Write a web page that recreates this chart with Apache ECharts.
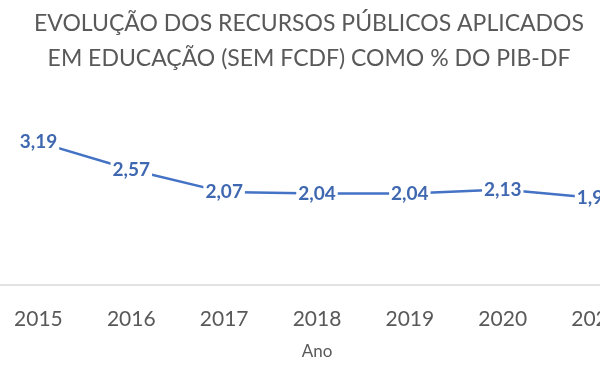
<!DOCTYPE html>
<html>
<head>
<meta charset="utf-8">
<script src="https://cdn.jsdelivr.net/npm/echarts@6/dist/echarts.min.js"></script>
<style>
  html, body { margin: 0; padding: 0; background: #fff; }
  #chart { width: 600px; height: 378px; }
</style>
</head>
<body>
<div id="chart"></div>
<script>
// ------------------------------
// DATA
// ------------------------------
const titleLines = [
  "EVOLUÇÃO DOS RECURSOS PÚBLICOS APLICADOS",
  "EM EDUCAÇÃO (SEM FCDF) COMO % DO PIB-DF"
];
const years = ["2015", "2016", "2017", "2018", "2019", "2020", "2021"];
const shareOfGdp = [3.19, 2.57, 2.07, 2.04, 2.04, 2.13, 1.94];
const xAxisName = "Ano";

// ------------------------------
// CHART
// ------------------------------
const grey = "#595959";
const blue = "#4472C4";
const fontFamily = "Lato, 'Open Sans', sans-serif";

let chart = echarts.init(document.getElementById("chart"), null, { renderer: "canvas" });

chart.setOption({
  animation: false,
  backgroundColor: "#fff",
  title: {
    text: titleLines.join("\n"),
    left: 309,
    textAlign: "center",
    top: 6,
    padding: 0,
    textStyle: {
      color: grey,
      fontFamily: fontFamily,
      fontWeight: "normal",
      fontSize: 23,
      lineHeight: 35
    }
  },
  // plot runs past the right edge, the last year is cut like in the source image
  grid: { left: -8, right: -42, top: 106, bottom: 90, outerBoundsMode: "none", containLabel: false },
  xAxis: {
    type: "category",
    data: years,
    boundaryGap: true,
    name: xAxisName,
    nameLocation: "middle",
    nameGap: 55,
    nameTextStyle: { color: grey, fontFamily: fontFamily, fontSize: 17 },
    axisLine: { lineStyle: { color: "#d9d9d9", width: 1.5 } },
    axisTick: { show: false },
    axisLabel: { color: grey, fontFamily: fontFamily, fontSize: 21, margin: 21 }
  },
  yAxis: {
    type: "value",
    min: -0.08,
    max: 4,
    show: false
  },
  series: [{
    type: "line",
    data: shareOfGdp,
    symbol: "circle",
    symbolSize: 2,
    lineStyle: { color: blue, width: 2.5 },
    itemStyle: { color: blue },
    label: {
      show: true,
      position: "inside",
      formatter: p => p.value.toFixed(2).replace(".", ","),
      color: "#3F68B0",
      fontFamily: fontFamily,
      fontWeight: "bold",
      fontSize: 19,
      backgroundColor: "#fff",
      padding: [1, 2]
    }
  }]
});
</script>
</body>
</html>
